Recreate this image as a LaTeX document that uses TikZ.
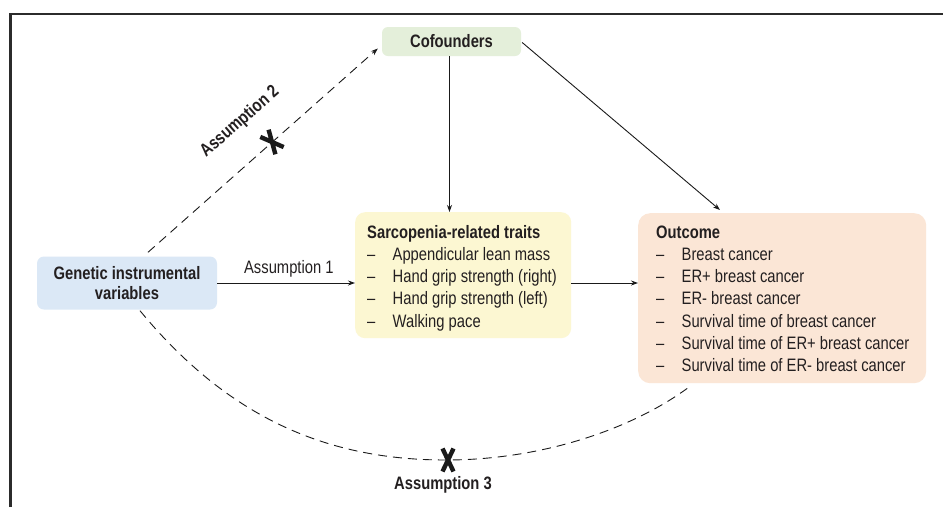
\documentclass[tikz,border=0pt]{standalone}
\usepackage{fontspec}
\setmainfont{Liberation Sans}[FakeStretch=0.82]
\usetikzlibrary{arrows.meta}
\definecolor{txtc}{HTML}{231F20}
\definecolor{linec}{HTML}{1A1A1A}
\definecolor{framec}{HTML}{2B2B2B}
\definecolor{cofc}{HTML}{E4EFDA}
\definecolor{genc}{HTML}{DBE8F6}
\definecolor{sarc}{HTML}{FCF7D2}
\definecolor{outc}{HTML}{FBE6D6}
\newcommand\myfs{\fontsize{18}{22.2}\selectfont}
\newcommand\itm[1]{\makebox[25.5pt][l]{–}#1}
\tikzset{
  boxs/.style={inner sep=0pt, draw=none},
  txts/.style={inner sep=0pt, text=txtc, font=\myfs},
  arr/.style={-{Stealth[length=7pt,width=5pt]}, line width=0.9pt, draw=linec},
  dsh/.style={dash pattern=on 9pt off 6pt, line width=0.9pt, draw=linec},
  xcross/.pic={\draw[line width=4.4pt, draw=linec] (-5.5,-11.5) -- (5.5,11.5) (5.5,-11.5) -- (-5.5,11.5);}
}
\begin{document}
\begin{tikzpicture}[x=1pt,y=-1pt]
\useasboundingbox[fill=white] (0,0) rectangle (943,507);
\draw[framec, line width=2.7pt, line join=miter] (10.7,507) -- (10.7,14) -- (943,14);

% boxes
\node[boxs, fill=cofc, rounded corners=6pt, minimum width=139pt, minimum height=29pt,
      text=txtc, font=\myfs\bfseries] (cof) at (451.5,41.5) {Cofounders};
\node[boxs, fill=genc, rounded corners=7pt, minimum width=180pt, minimum height=53pt,
      text=txtc, font=\fontsize{18}{19.5}\selectfont\bfseries, align=center] (gen) at (127,283)
      {Genetic instrumental\\variables};
\node[boxs, fill=sarc, rounded corners=10pt, minimum width=216pt, minimum height=126pt,
      anchor=north west] (sar) at (355,212) {};
\node[boxs, fill=outc, rounded corners=12pt, minimum width=288pt, minimum height=170pt,
      anchor=north west] (out) at (638,213) {};

\node[txts, anchor=north west, align=left] (sartxt) at (367,222.5)
  {\strut\textbf{Sarcopenia-related traits}\\
   \itm{Appendicular lean mass}\\
   \itm{Hand grip strength (right)}\\
   \itm{Hand grip strength (left)}\\
   \itm{Walking pace}};
\node[txts, anchor=north west, align=left] (outtxt) at (656,222.5)
  {\strut\textbf{Outcome}\\
   \itm{Breast cancer}\\
   \itm{ER+ breast cancer}\\
   \itm{ER- breast cancer}\\
   \itm{Survival time of breast cancer}\\
   \itm{Survival time of ER+ breast cancer}\\
   \itm{Survival time of ER- breast cancer}};

% solid arrows
\draw[arr] ([xshift=-2pt]cof.south) -- ([xshift=-2pt]cof.south |- sar.north);
\draw[arr] ([xshift=1pt,yshift=-1pt]cof.east) -- ([xshift=82pt,yshift=3pt]out.north west);
\draw[arr] (gen.east) -- (gen.east -| sar.west)
  node[txts, pos=0.52, above=5pt] (a1) {Assumption 1};
\draw[arr] (gen.east -| sar.east) -- (gen.east -| out.west);

% assumption 2
\draw[dsh, -{Stealth[length=7pt,width=5pt]}] ([xshift=21pt,yshift=4pt]gen.north) -- ([xshift=-4pt,yshift=-7pt]cof.west);
\pic[rotate=41] at (272,142) {xcross};
\node[txts, font=\myfs\bfseries, rotate=41] (a2) at (240,122) {Assumption 2};

% assumption 3
\coordinate (x3) at (446,460);
\draw[dsh] ([xshift=13pt,yshift=-1pt]gen.south) .. controls (230,420) and (330,460) .. (x3)
  .. controls (540,460) and (630,430) .. ([xshift=-95pt,yshift=-5pt]out.south);
\pic at (448,460) {xcross};
\node[txts, font=\myfs\bfseries] (a3) at (443,485) {Assumption 3};
\end{tikzpicture}
\end{document}
